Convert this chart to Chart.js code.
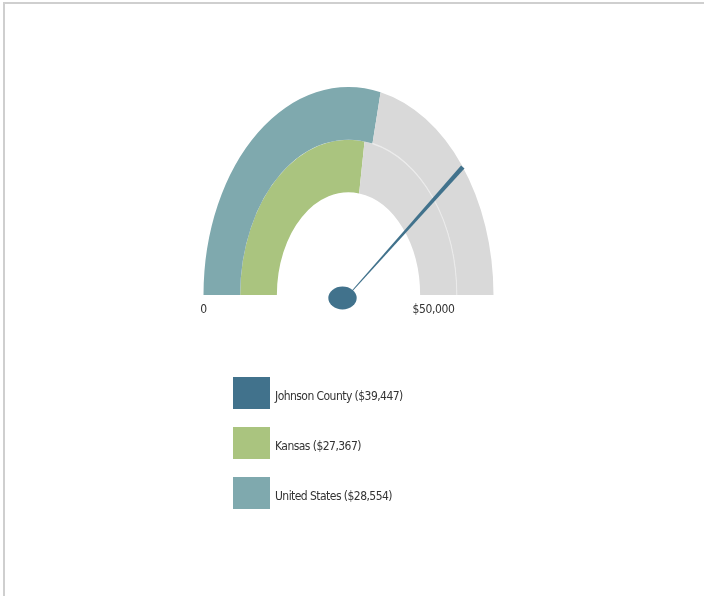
<!DOCTYPE html>
<html>
<head>
<meta charset="utf-8">
<script src="https://cdn.jsdelivr.net/npm/chart.js@4/dist/chart.umd.min.js"></script>
<style>
  html, body { margin: 0; padding: 0; background: #fff; }
  body { width: 704px; height: 596px; position: relative; overflow: hidden; }
  .frame {
    position: absolute; left: 3px; top: 2px; right: -4px; bottom: -4px;
    border-top: 2px solid #cfcfcf; border-left: 2px solid #cfcfcf;
  }
  #gauge { position: absolute; left: 0; top: 0; }
  .legend {
    position: absolute; left: 233px; top: 377px;
    font-family: "DejaVu Sans", sans-serif; font-stretch: condensed;
    font-size: 12px; letter-spacing: -0.55px; color: #333;
  }
  .legend .item { display: flex; align-items: center; height: 32px; margin-bottom: 18px; }
  .legend .swatch { width: 37px; height: 32px; margin-right: 5px; }
  .legend .text { position: relative; top: 3px; }
</style>
</head>
<body>
<div class="frame"></div>
<canvas id="gauge" width="704" height="596"></canvas>
<div class="legend" id="legend"></div>
<script>
// median household income, gauge runs 0 .. $50,000
const regions = ["Johnson County", "Kansas", "United States"]
const incomes = [39447, 27367, 28554]
const regionColors = ["#41728c", "#aac47f", "#7fa9ae"]
const gaugeMax = 50000
const tickLabels = ["0", "$50,000"]

const trackColor = "#d9d9d9"
const stretchY = 1.434 // the gauge is drawn as a tall half ellipse

// outer ring = United States, inner ring = Kansas, needle = Johnson County
const ring = (i) => ({
  label: regions[i],
  data: [incomes[i], gaugeMax - incomes[i]],
  backgroundColor: [regionColors[i], trackColor],
  borderWidth: 0,
})

const ellipsePlugin = {
  id: "ellipse",
  beforeDatasetsDraw(chart) {
    const arc = chart.getDatasetMeta(0).data[0]
    const ctx = chart.ctx
    ctx.save()
    ctx.translate(arc.x, arc.y)
    ctx.scale(1, stretchY)
    ctx.translate(-arc.x, -arc.y)
  },
  afterDatasetsDraw(chart) {
    // faint seam between the two grey tracks
    const ctx = chart.ctx
    const track = chart.getDatasetMeta(0).data[1]
    ctx.beginPath()
    ctx.arc(track.x, track.y, track.innerRadius, track.startAngle, track.endAngle)
    ctx.strokeStyle = "#ebebeb"
    ctx.lineWidth = 1
    ctx.stroke()
    ctx.restore()
  },
  afterDraw(chart) {
    const ctx = chart.ctx
    const arc = chart.getDatasetMeta(0).data[0]
    const cx = arc.x
    const cy = arc.y
    const r = arc.outerRadius

    // needle: tapered wedge from the centre to the outer edge
    const a = -Math.PI + Math.PI * (incomes[0] / gaugeMax)
    const tx = cx + r * Math.cos(a)
    const ty = cy + r * Math.sin(a) * stretchY
    const len = Math.hypot(tx - cx, ty - cy)
    const nx = -(ty - cy) / len
    const ny = (tx - cx) / len
    const w0 = 0.4
    const w1 = 2.3
    ctx.save()
    ctx.fillStyle = regionColors[0]
    ctx.beginPath()
    ctx.moveTo(cx + nx * w0, cy + ny * w0)
    ctx.lineTo(tx + nx * w1, ty + ny * w1)
    ctx.lineTo(tx - nx * w1, ty - ny * w1)
    ctx.lineTo(cx - nx * w0, cy - ny * w0)
    ctx.closePath()
    ctx.fill()

    // pivot cap
    ctx.beginPath()
    ctx.ellipse(cx - 6, cy + 3, 14.2, 11.4, 0, 0, Math.PI * 2)
    ctx.fill()

    // end labels
    ctx.fillStyle = "#333"
    ctx.font = 'condensed 12px "DejaVu Sans", sans-serif'
    ctx.letterSpacing = "-0.4px"
    ctx.textBaseline = "middle"
    ctx.textAlign = "center"
    ctx.fillText(tickLabels[0], cx - r, cy + 15)
    ctx.fillText(tickLabels[1], cx + r * 0.586, cy + 15)
    ctx.restore()
  },
}

new Chart(document.getElementById("gauge"), {
  type: "doughnut",
  data: {
    labels: ["value", "rest"],
    datasets: [ring(2), ring(1)],
  },
  options: {
    responsive: false,
    devicePixelRatio: 1,
    animation: false,
    rotation: -90,
    circumference: 180,
    cutout: "49.4%",
    layout: { padding: { left: 203.5, right: 210.5, top: 150, bottom: 301 } },
    plugins: {
      legend: { display: false },
      tooltip: { enabled: false },
    },
  },
  plugins: [ellipsePlugin],
})

// legend
const legend = document.getElementById("legend")
regions.forEach((name, i) => {
  const item = document.createElement("div")
  item.className = "item"
  item.innerHTML =
    '<div class="swatch" style="background:' + regionColors[i] + '"></div>' +
    '<span class="text">' + name + " ($" + incomes[i].toLocaleString("en-US") + ")</span>"
  legend.appendChild(item)
})
</script>
</body>
</html>
